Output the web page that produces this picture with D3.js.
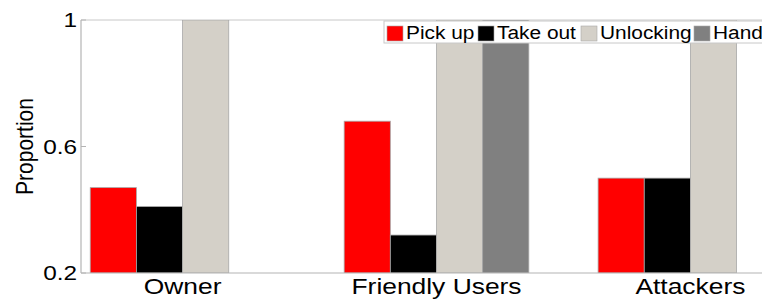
<!DOCTYPE html>
<html>
<head>
<meta charset="utf-8">
<script src="https://cdn.jsdelivr.net/npm/d3@7"></script>
<style>
  html, body { margin: 0; padding: 0; background: #fff; }
  svg { display: block; font-family: "Liberation Sans", Arial, sans-serif; }
</style>
</head>
<body>
<svg id="chart" width="762" height="300"></svg>
<script>
const categories = ["Owner", "Friendly Users", "Attackers"];
const seriesNames = ["Pick up", "Take out", "Unlocking", "Hand"];
const pickUp    = [0.47, 0.68, 0.50];
const takeOut   = [0.41, 0.32, 0.50];
const unlocking = [1.00, 1.00, 1.00];
const hand      = [0.00, 1.00, 0.00];
const yTicks = [0.2, 0.6, 1];
const yTickLabels = ["0.2", "0.6", "1"];
const colors = ["#ff0000", "#000000", "#d4d0c8", "#808080"];

(function () {
const series = [pickUp, takeOut, unlocking, hand];
const svg = d3.select("#chart");
const SX = 1.16;

const mLeft = 81, mRight = 792, mTop = 20, mBottom = 273;
const x = d3.scaleLinear().domain([0.6, 3.4]).range([mLeft, mRight]);
const y = d3.scaleLinear().domain([0.2, 1]).range([mBottom, mTop]);

const groupW = Math.min(0.8, 4 / (4 + 1.5));
const barW = groupW / 4;

svg.append("defs").append("clipPath").attr("id", "plot")
  .append("rect").attr("x", mLeft).attr("y", mTop).attr("width", mRight - mLeft).attr("height", mBottom - mTop);

svg.append("line").attr("x1", mLeft).attr("x2", 762).attr("y1", mTop).attr("y2", mTop)
  .attr("stroke", "#c8c8c8").attr("stroke-width", 1);

const gBars = svg.append("g").attr("clip-path", "url(#plot)");
series.forEach((vals, si) => {
  gBars.selectAll(null).data(vals.map((v, ci) => ({ v, ci })).filter(d => d.v > 0.2))
    .enter().append("rect")
    .attr("x", d => x(d.ci + 1 + (si - 1.5) * barW - barW / 2))
    .attr("width", x(barW) - x(0))
    .attr("y", d => y(d.v))
    .attr("height", d => y(0.2) - y(d.v))
    .attr("fill", colors[si])
    .attr("stroke", "#a8a8a8")
    .attr("stroke-width", 0.8);
});

svg.append("line").attr("x1", mLeft).attr("x2", mLeft).attr("y1", mTop).attr("y2", mBottom)
  .attr("stroke", "#b4b4b4").attr("stroke-width", 1.2);
svg.append("line").attr("x1", mLeft).attr("x2", 762).attr("y1", mBottom).attr("y2", mBottom)
  .attr("stroke", "#b4b4b4").attr("stroke-width", 1.2);

yTicks.forEach((t, i) => {
  svg.append("line").attr("x1", mLeft).attr("x2", mLeft + 5).attr("y1", y(t)).attr("y2", y(t))
    .attr("stroke", "#b4b4b4");
  svg.append("text")
    .attr("transform", `translate(77,${y(t)}) scale(${SX},1)`)
    .attr("text-anchor", "end").attr("dy", "0.35em")
    .attr("font-size", 21).attr("fill", "#000")
    .text(yTickLabels[i]);
});

categories.forEach((c, i) => {
  svg.append("text")
    .attr("transform", `translate(${x(i + 1)},294) scale(1.2,1)`)
    .attr("text-anchor", "middle")
    .attr("font-size", 22).attr("fill", "#000")
    .text(c);
});

svg.append("text")
  .attr("transform", `translate(33,${(mTop + mBottom) / 2}) scale(${SX},1) rotate(-90)`)
  .attr("text-anchor", "middle")
  .attr("font-size", 21).attr("fill", "#000")
  .text("Proportion");

const lg = svg.append("g");
lg.append("rect").attr("x", 384).attr("y", 21).attr("width", 400).attr("height", 22)
  .attr("fill", "#fff").attr("stroke", "#c8c8c8").attr("stroke-width", 1);
const legX = [387, 478, 581, 694];
seriesNames.forEach((n, i) => {
  lg.append("rect").attr("x", legX[i]).attr("y", 26).attr("width", 16).attr("height", 15)
    .attr("fill", colors[i]).attr("stroke", "#a8a8a8").attr("stroke-width", 0.6);
  lg.append("text")
    .attr("transform", `translate(${legX[i] + 19},39) scale(${SX},1)`)
    .attr("font-size", 18).attr("fill", "#000")
    .text(n);
});
})();
</script>
</body>
</html>
